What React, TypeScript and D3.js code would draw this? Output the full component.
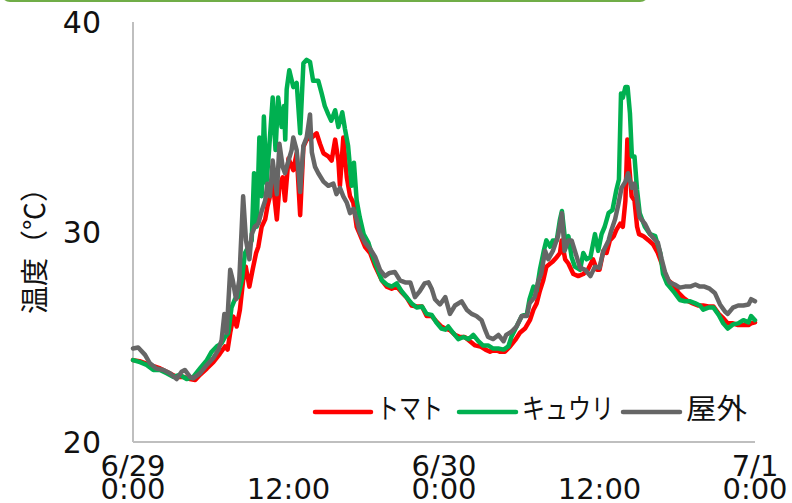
import React from "react";
import * as d3 from "d3";

// hours since 6/29 0:00, temperature in °C
const tomato: [number, number][] = [
  [0, 23.9], [0.5, 23.85], [1.3, 23.67], [2.1, 23.5], [2.6, 23.35], [3.37, 23.1], [3.9, 23.1], [4.4, 23.0],
  [4.8, 22.95], [5.17, 23.2], [5.7, 23.5], [6.2, 23.8], [6.7, 24.2], [7.1, 24.55], [7.3, 24.4], [7.5, 25.2],
  [7.75, 25.97], [8.0, 25.5], [8.25, 26.3], [8.5, 27.7], [8.7, 28.35], [8.98, 27.4], [9.23, 28.2], [9.5, 29.0],
  [9.67, 29.3], [9.93, 30.25], [10.2, 30.6], [10.37, 31.2], [10.57, 31.7], [10.8, 32.3], [11.1, 30.6], [11.3, 32.2],
  [11.55, 32.6], [11.73, 31.5], [12.0, 33.5], [12.37, 32.95], [12.63, 33.75], [12.9, 30.8], [13.15, 34.06],
  [13.4, 34.4], [13.8, 34.5], [14.17, 34.7], [14.43, 34.2], [14.7, 33.75], [15.07, 33.6], [15.33, 33.4],
  [15.6, 34.4], [15.85, 33.4], [15.97, 32.2], [16.23, 34.5], [16.5, 32.6], [16.75, 31.7], [17.0, 31.4],
  [17.26, 30.25], [17.5, 29.9], [17.9, 29.3], [18.3, 29.0], [18.7, 28.35], [19.2, 27.7], [19.58, 27.4],
  [19.96, 27.3], [20.35, 27.4], [20.7, 27.15], [21.1, 26.9], [21.5, 26.5], [21.9, 26.45], [22.3, 26.45],
  [22.66, 26.0], [23.05, 26.0], [23.4, 25.75], [23.8, 25.5], [24.1, 25.4], [24.46, 25.33], [24.85, 25.1],
  [25.24, 25.0], [25.6, 25.0], [26.0, 24.8], [26.4, 24.6], [26.8, 24.55], [27.2, 24.4], [27.55, 24.3],
  [27.93, 24.4], [28.3, 24.3], [28.7, 24.3], [29.1, 24.55], [29.5, 24.86], [29.86, 25.2], [30.25, 25.4],
  [30.63, 25.8], [30.9, 26.3], [31.15, 26.6], [31.4, 27.2], [31.66, 27.7], [31.9, 28.35], [32.2, 28.5],
  [32.4, 28.6], [32.7, 28.8], [32.95, 29.0], [33.08, 29.6], [33.35, 28.7], [33.6, 28.5], [33.98, 28.0],
  [34.36, 27.9], [34.75, 28.0], [35.1, 28.2], [35.5, 28.7], [35.8, 28.2], [36.0, 28.2], [36.3, 29.1],
  [36.55, 29.0], [36.8, 29.6], [37.1, 29.8], [37.3, 30.1], [37.6, 30.4], [37.8, 30.25], [38.0, 31.5],
  [38.15, 34.4], [38.3, 33.1], [38.48, 31.7], [38.7, 31.5], [38.9, 30.25], [39.05, 29.9], [39.4, 29.8],
  [39.8, 29.6], [40.15, 29.4], [40.5, 29.0], [40.8, 28.5], [41.05, 28.0], [41.3, 27.7], [41.7, 27.5],
  [42.1, 27.1], [42.5, 26.85], [42.85, 26.7], [43.2, 26.6], [43.6, 26.5], [44.0, 26.5], [44.4, 26.45],
  [44.8, 26.45], [45.2, 26.1], [45.55, 25.9], [45.9, 25.65], [46.3, 25.65], [46.7, 25.57], [47.1, 25.57],
  [47.5, 25.57], [47.7, 25.65], [48.0, 25.7],
];

const cucumber: [number, number][] = [
  [0, 23.9], [0.54, 23.8], [1.05, 23.67], [1.57, 23.43], [2.08, 23.43], [2.6, 23.27], [3.1, 23.1], [3.6, 23.2],
  [4.14, 23.0], [4.65, 23.1], [5.17, 23.5], [5.7, 23.9], [6.07, 24.3], [6.46, 24.55], [6.84, 24.7], [7.1, 25.0],
  [7.36, 25.2], [7.6, 26.4], [7.87, 26.8], [8.1, 26.9], [8.4, 27.7], [8.64, 29.0], [8.9, 29.3], [9.16, 29.6],
  [9.34, 32.8], [9.55, 30.25], [9.75, 34.5], [9.93, 31.7], [10.1, 35.5], [10.3, 32.3], [10.5, 33.9],
  [10.78, 36.4], [11.0, 33.9], [11.2, 36.4], [11.47, 35.0], [11.65, 36.0], [11.75, 34.4], [11.86, 36.8],
  [12.06, 37.7], [12.37, 36.9], [12.63, 37.1], [12.9, 34.7], [13.15, 38.03], [13.4, 38.2], [13.66, 38.1],
  [13.9, 37.2], [14.3, 37.2], [14.56, 36.6], [14.8, 36.0], [15.07, 35.6], [15.3, 35.3], [15.6, 35.8],
  [15.85, 35.0], [16.15, 35.7], [16.36, 34.9], [16.6, 34.1], [16.87, 32.2], [17.05, 33.3], [17.26, 31.5],
  [17.5, 30.7], [17.8, 29.9], [18.16, 29.5], [18.4, 29.0], [18.8, 28.35], [19.2, 27.7], [19.58, 27.5],
  [19.96, 27.4], [20.35, 27.55], [20.7, 27.2], [21.1, 26.9], [21.5, 26.6], [21.9, 26.4], [22.3, 26.45],
  [22.66, 26.1], [23.05, 26.05], [23.4, 25.7], [23.8, 25.4], [24.1, 25.35], [24.33, 25.5], [24.7, 25.2],
  [25.1, 24.9], [25.5, 25.0], [25.9, 24.9], [26.26, 25.1], [26.65, 24.8], [27.0, 24.6], [27.4, 24.6],
  [27.8, 24.45], [28.2, 24.45], [28.6, 24.4], [28.96, 24.55], [29.2, 25.0], [29.6, 25.5], [30.0, 26.0],
  [30.4, 26.1], [30.6, 26.8], [30.9, 27.4], [31.15, 27.2], [31.4, 28.2], [31.7, 29.1], [31.9, 29.6],
  [32.2, 29.3], [32.4, 29.6], [32.7, 29.6], [32.95, 30.6], [33.1, 31.0], [33.35, 29.6], [33.6, 29.8],
  [33.85, 28.8], [34.1, 28.35], [34.5, 28.2], [34.75, 29.0], [35.0, 28.7], [35.3, 28.8], [35.65, 29.9],
  [35.9, 29.1], [36.16, 29.9], [36.4, 30.25], [36.7, 30.9], [37.0, 31.05], [37.3, 32.0], [37.5, 32.5],
  [37.66, 36.6], [37.8, 36.4], [38.0, 36.9], [38.17, 36.9], [38.35, 35.65], [38.5, 33.6], [38.7, 33.6],
  [38.9, 32.0], [39.1, 30.9], [39.5, 30.25], [39.9, 29.9], [40.3, 29.8], [40.7, 28.98], [40.9, 28.0],
  [41.2, 27.55], [41.4, 27.4], [41.8, 27.1], [42.2, 26.76], [42.6, 26.7], [43.0, 26.7], [43.4, 26.6],
  [43.75, 26.5], [44.0, 26.3], [44.4, 26.4], [44.8, 26.4], [45.2, 26.05], [45.55, 25.65], [45.9, 25.4],
  [46.3, 25.6], [46.7, 25.65], [47.1, 25.8], [47.5, 25.7], [47.7, 26.0], [48.0, 25.8],
];

const outdoor: [number, number][] = [
  [0, 24.45], [0.4, 24.5], [0.93, 24.15], [1.3, 23.75], [1.8, 23.5], [2.34, 23.43], [2.85, 23.27], [3.37, 23.0],
  [3.75, 23.35], [4.0, 23.43], [4.4, 23.1], [4.65, 23.03], [5.17, 23.27], [5.7, 23.67], [6.2, 24.0], [6.6, 24.4],
  [6.84, 24.86], [7.05, 26.1], [7.23, 25.2], [7.5, 28.2], [7.7, 27.7], [7.95, 26.8], [8.2, 27.7], [8.5, 31.7],
  [8.72, 29.6], [8.98, 28.7], [9.16, 29.9], [9.4, 30.25], [9.67, 30.4], [9.93, 31.0], [10.2, 31.5],
  [10.37, 32.3], [10.57, 31.7], [10.78, 33.4], [10.96, 32.5], [11.1, 31.8], [11.3, 34.2], [11.55, 33.1],
  [11.73, 32.8], [12.0, 33.4], [12.24, 33.9], [12.37, 34.5], [12.63, 33.9], [12.9, 31.9], [13.15, 34.1],
  [13.4, 34.5], [13.66, 35.6], [13.8, 33.8], [14.05, 33.1], [14.3, 32.8], [14.7, 32.4], [15.07, 32.2],
  [15.46, 32.3], [15.7, 31.8], [15.97, 32.1], [16.23, 31.7], [16.5, 31.4], [16.75, 30.9], [17.0, 31.1],
  [17.26, 30.6], [17.5, 30.0], [17.9, 29.5], [18.3, 29.2], [18.7, 28.8], [19.06, 28.2], [19.45, 27.9],
  [19.8, 28.05], [20.2, 28.1], [20.6, 27.7], [21.0, 27.6], [21.4, 27.6], [21.76, 26.9], [22.15, 27.2],
  [22.5, 27.55], [22.8, 27.6], [23.05, 27.3], [23.3, 26.8], [23.69, 26.55], [24.1, 26.9], [24.46, 26.1],
  [24.85, 26.5], [25.36, 26.7], [25.75, 26.3], [26.13, 26.1], [26.5, 26.0], [26.9, 25.8], [27.2, 25.3],
  [27.4, 25.0], [27.8, 24.9], [28.2, 25.1], [28.6, 24.8], [28.8, 25.1], [29.2, 25.25], [29.6, 25.5],
  [30.0, 26.0], [30.4, 26.0], [30.6, 26.6], [31.0, 26.9], [31.3, 27.7], [31.5, 28.0], [31.8, 29.1],
  [32.05, 28.7], [32.4, 29.1], [32.8, 29.8], [33.1, 30.9], [33.3, 29.1], [33.6, 29.6], [33.85, 29.6],
  [34.1, 29.1], [34.5, 28.3], [34.9, 28.2], [35.3, 27.9], [35.65, 28.35], [36.0, 28.3], [36.3, 29.1],
  [36.7, 29.6], [36.9, 30.05], [37.2, 30.6], [37.45, 31.3], [37.7, 32.1], [38.0, 32.4], [38.2, 32.8],
  [38.5, 32.1], [38.7, 32.3], [38.9, 31.5], [39.1, 30.7], [39.5, 30.4], [39.9, 29.9], [40.3, 29.6],
  [40.5, 29.5], [40.8, 28.7], [41.05, 28.1], [41.4, 27.6], [41.8, 27.5], [42.2, 27.35], [42.6, 27.4],
  [43.0, 27.4], [43.4, 27.5], [43.75, 27.4], [44.1, 27.4], [44.5, 27.3], [44.9, 27.1], [45.3, 26.55],
  [45.7, 26.2], [45.9, 26.1], [46.3, 26.4], [46.7, 26.5], [47.1, 26.5], [47.5, 26.55], [47.7, 26.8],
  [48.0, 26.7],
];

const seriesNames = ["トマト", "キュウリ", "屋外"];
const seriesColors = ["#ff0000", "#00b050", "#666666"];
const yTicks = [20, 30, 40];
const xTicks = [0, 12, 24, 36, 48];
const xTickLabels = [["6/29", "0:00"], ["", "12:00"], ["6/30", "0:00"], ["", "12:00"], ["7/1", "0:00"]];

const W = 792;
const H = 503;
const font = "'DejaVu Sans', 'Noto Sans CJK JP', sans-serif";
const jpFont = "'Noto Sans CJK JP', sans-serif";

const App = () => {
  const x = d3.scaleLinear().domain([0, 48]).range([133, 755]);
  const y = d3.scaleLinear().domain([20, 40]).range([442, 22]);
  const line = d3
    .line<[number, number]>()
    .x((d) => x(d[0]))
    .y((d) => y(d[1]));

  const all = [tomato, cucumber, outdoor];
  // legend layout: sample line start, sample end, text width
  const legend = [
    { x0: 315, x1: 371, tw: 66 },
    { x0: 459, x1: 516, tw: 92 },
    { x0: 623, x1: 680, tw: 61 },
  ];

  return (
    <svg
      width={W}
      height={H}
      style={{ position: "absolute", left: 0, top: 0, display: "block", background: "#fff" }}
    >
      <rect x={2} y={-30} width={646} height={31} rx={8} fill="none" stroke="#70ad47" strokeWidth={2} />

      <line x1={x(0)} x2={x(0)} y1={y(40)} y2={y(20)} stroke="#bfbfbf" strokeWidth={2} />
      <line x1={x(0)} x2={x(48)} y1={y(20)} y2={y(20)} stroke="#bfbfbf" strokeWidth={2} />

      {yTicks.map((t) => (
        <text key={t} x={101} y={y(t)} dy="0.36em" textAnchor="end" fontFamily={font} fontSize={30} fill="#111">
          {t}
        </text>
      ))}

      {xTicks.map((t, i) => (
        <text key={t} textAnchor="middle" fontFamily={font} fontSize={29} fill="#111">
          <tspan x={x(t)} y={476}>{xTickLabels[i][0]}</tspan>
          <tspan x={x(t)} y={499}>{xTickLabels[i][1]}</tspan>
        </text>
      ))}

      <text
        transform="translate(45,244) rotate(-90)"
        textAnchor="middle"
        fontFamily={jpFont}
        fontSize={28}
        fill="#111"
      >
        温度（℃）
      </text>

      {all.map((s, i) => (
        <path
          key={i}
          d={line(s) || ""}
          fill="none"
          stroke={seriesColors[i]}
          strokeWidth={4.5}
          strokeLinejoin="round"
          strokeLinecap="round"
        />
      ))}

      {legend.map((l, i) => (
        <g key={i}>
          <line x1={l.x0} x2={l.x1} y1={412} y2={412} stroke={seriesColors[i]} strokeWidth={4.5} strokeLinecap="round" />
          <text
            x={l.x1 + 6}
            y={419}
            fontFamily={jpFont}
            fontSize={28}
            fill="#111"
            textLength={l.tw}
            lengthAdjust="spacingAndGlyphs"
          >
            {seriesNames[i]}
          </text>
        </g>
      ))}
    </svg>
  );
};

export default App;
